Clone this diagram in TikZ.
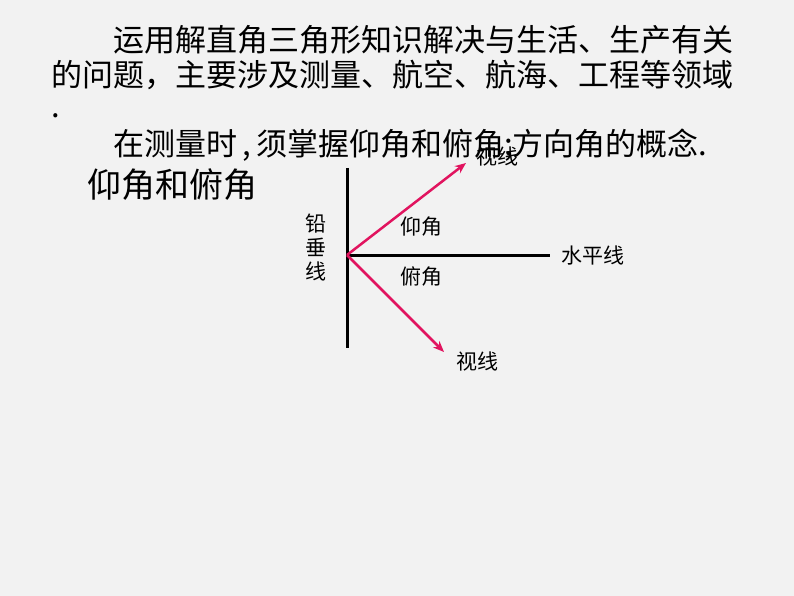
\documentclass[tikz,border=0pt]{standalone}
\usepackage{xcolor}
\usepackage{fontspec}
\setmainfont{Noto Sans CJK SC}
\usetikzlibrary{arrows.meta}

\definecolor{sightred}{RGB}{225,20,95}
\definecolor{slidegray}{RGB}{242,242,242}

\tikzset{
	bigtext/.style={anchor=west, inner sep=0pt, font=\fontsize{31}{31}\selectfont},
	labeltext/.style={inner sep=0pt, font=\fontsize{21}{21}\selectfont},
	axisline/.style={line width=3pt},
	sightline/.style={sightred, line width=2.5pt, -{Stealth[length=11pt,width=9pt]}}
}

\begin{document}
\begin{tikzpicture}[x=1pt,y=-1pt]

\fill[slidegray] (0,0) rectangle (794,596);
\useasboundingbox (0,0) rectangle (794,596);

% ------------------------------------------------------
% text

\node[bigtext] (line1) at (113,40) {运用解直角三角形知识解决与生活、生产有关};
\node[bigtext] (line2) at (51,75) {的问题，主要涉及测量、航空、航海、工程等领域};
\node[bigtext] (line3) at (51,116) {.};
\node[bigtext] (line4) at (113,145) {在测量时\,,\,须掌握仰角和俯角;方向角的概念.};
\node[bigtext, font=\fontsize{34}{34}\selectfont] (title) at (87,185) {仰角和俯角};

% ------------------------------------------------------
% lines

\coordinate (O) at (347,255);
\coordinate (top) at (347,168);
\coordinate (bottom) at (347,348);
\coordinate (right) at (550,255);
\coordinate (up) at (466,163);
\coordinate (down) at (444,352);

\draw[axisline] (top)--(bottom);
\draw[axisline] (O)--(right);

\draw[sightline] (O)--(up);
\draw[sightline] (O)--(down);

% ------------------------------------------------------
% labels

\node[labeltext, anchor=west] (horiz) at (561,256) {水平线};
\node[labeltext, align=center] (plumb) at (316,248) {铅\\[3pt]垂\\[3pt]线};
\node[labeltext] (upsight) at (497,157) {视线};
\node[labeltext] (downsight) at (477,362) {视线};
\node[labeltext] (elev) at (421,227) {仰角};
\node[labeltext] (depr) at (421,277) {俯角};

\end{tikzpicture}
\end{document}
